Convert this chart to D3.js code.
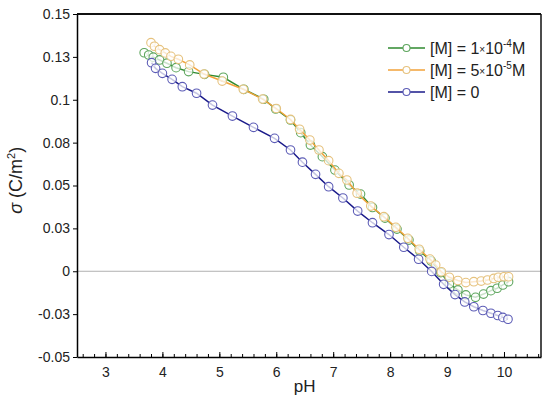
<!DOCTYPE html>
<html>
<head>
<meta charset="utf-8">
<script src="https://cdn.jsdelivr.net/npm/d3@7"></script>
<style>
  body { margin: 0; background: #fff; }
  text { font-family: "Liberation Sans", Arial, sans-serif; }
</style>
</head>
<body>
<div id="chart"></div>
<script>
// [M] = 1x10^-4 M
const phGreen = [3.68, 3.76, 3.84, 3.95, 4.08, 4.24, 4.46, 4.74, 5.07, 5.43, 5.78, 5.99, 6.25, 6.43, 6.60, 6.81, 7.03, 7.28, 7.48, 7.69,
    7.91, 8.12, 8.33, 8.52, 8.72, 8.89, 9.04, 9.19, 9.33, 9.50, 9.64, 9.77, 9.88, 9.98, 10.08];
const sigmaGreen = [0.1274, 0.1261, 0.1248, 0.1232, 0.1213, 0.1187, 0.1164, 0.1148, 0.1131, 0.1061, 0.1003, 0.0946, 0.0882, 0.0808, 0.0736,
    0.0668, 0.0590, 0.0503, 0.0450, 0.0372, 0.0310, 0.0246, 0.0182, 0.0118, 0.0060, -0.0008, -0.0074, -0.0109, -0.0138, -0.0152,
    -0.0133, -0.0113, -0.0099, -0.0080, -0.0061];

// [M] = 5x10^-5 M
const phOrange = [3.80, 3.86, 3.95, 4.05, 4.15, 4.28, 4.48, 4.73, 5.05, 5.42, 5.76, 6.00, 6.25, 6.41, 6.59, 6.75, 6.92, 7.10, 7.24, 7.42,
    7.66, 7.89, 8.10, 8.31, 8.51, 8.70, 8.80, 8.90, 9.04, 9.19, 9.33, 9.47, 9.60, 9.71, 9.82, 9.90, 10.00, 10.08];
const sigmaOrange = [0.1333, 0.1312, 0.1292, 0.1273, 0.1253, 0.1236, 0.1203, 0.1150, 0.1109, 0.1061, 0.1004, 0.0949, 0.0885, 0.0828, 0.0765,
    0.0707, 0.0645, 0.0571, 0.0532, 0.0455, 0.0380, 0.0318, 0.0256, 0.0192, 0.0128, 0.0071, 0.0036, -0.0003, -0.0035, -0.0054,
    -0.0066, -0.0061, -0.0057, -0.0051, -0.0042, -0.0035, -0.0032, -0.0032];

// [M] = 0
const phBlue = [3.81, 3.88, 4.00, 4.17, 4.35, 4.60, 4.88, 5.23, 5.60, 5.97, 6.25, 6.46, 6.69, 6.92, 7.17, 7.43, 7.69, 7.98, 8.24, 8.50,
    8.73, 8.94, 9.14, 9.31, 9.47, 9.63, 9.77, 9.89, 9.98, 10.07];
const sigmaBlue = [0.1216, 0.1183, 0.1154, 0.1119, 0.1076, 0.1038, 0.0969, 0.0905, 0.0839, 0.0775, 0.0707, 0.0636, 0.0565, 0.0493, 0.0427,
    0.0351, 0.0283, 0.0214, 0.0140, 0.0070, -0.0001, -0.0076, -0.0136, -0.0179, -0.0207, -0.0229, -0.0245, -0.0258, -0.0269, -0.0280];

const yTickValues = [-0.05, -0.025, 0, 0.025, 0.05, 0.075, 0.1, 0.125, 0.15];
const yTickLabels = ['-0.05', '-0.03', '0', '0.03', '0.05', '0.08', '0.1', '0.13', '0.15'];
const xTickValues = [3, 4, 5, 6, 7, 8, 9, 10];

const series = [
    { name: 'green', ph: phGreen, sigma: sigmaGreen, line: '#2f8a2f', marker: '#5ea65e', exp: '-4', pre: '1' },
    { name: 'orange', ph: phOrange, sigma: sigmaOrange, line: '#f2a23a', marker: '#e6c27e', exp: '-5', pre: '5' },
    { name: 'blue', ph: phBlue, sigma: sigmaBlue, line: '#1a1a8a', marker: '#5c5cb6', exp: null }
];

const svgWidth = 550;
const svgHeight = 399;
const margin = { top: 14, right: 9, bottom: 42, left: 77 };
const width = svgWidth - margin.left - margin.right;
const height = svgHeight - margin.top - margin.bottom;

const svg = d3.select('#chart')
    .append('svg')
    .attr('width', svgWidth)
    .attr('height', svgHeight)
    .append('g')
    .attr('transform', 'translate(' + margin.left + ',' + margin.top + ')');

const x = d3.scaleLinear().domain([2.5, 10.65]).range([0, width]);
const y = d3.scaleLinear().domain([-0.05, 0.15]).range([height, 0]);

// zero line
svg.append('line')
    .attr('x1', 0).attr('x2', width)
    .attr('y1', y(0)).attr('y2', y(0))
    .attr('stroke', '#b0b0b0')
    .attr('stroke-width', 1);

// frame top / right
svg.append('line')
    .attr('x1', 0).attr('x2', width).attr('y1', 0).attr('y2', 0)
    .attr('stroke', '#111').attr('stroke-width', 2);
svg.append('line')
    .attr('x1', width).attr('x2', width).attr('y1', 0).attr('y2', height)
    .attr('stroke', '#111').attr('stroke-width', 1.5);

// minor x ticks
const xMinor = svg.append('g')
    .attr('transform', 'translate(0,' + height + ')')
    .call(d3.axisBottom(x).tickValues(d3.range(2.6, 10.65, 0.2)).tickSize(-3).tickFormat(''));
xMinor.select('.domain').remove();

const xAxis = svg.append('g')
    .attr('transform', 'translate(0,' + height + ')')
    .call(d3.axisBottom(x).tickValues(xTickValues).tickSizeInner(-5).tickSizeOuter(0).tickPadding(10));
xAxis.selectAll('text').style('font-size', '14px').attr('fill', '#222');
xAxis.select('.domain').attr('stroke-width', 1.5);

const yAxis = svg.append('g')
    .call(d3.axisLeft(y).tickValues(yTickValues).tickSizeInner(4).tickSizeOuter(0).tickPadding(3)
        .tickFormat((d, i) => yTickLabels[i]));
yAxis.selectAll('text').style('font-size', '14px').attr('fill', '#222');
yAxis.select('.domain').attr('stroke-width', 1.5);

// series
const line = d3.line()
    .x(d => x(d[0]))
    .y(d => y(d[1]));

series.forEach(s => {
    const pts = s.ph.map((p, i) => [p, s.sigma[i]]);
    svg.append('path')
        .datum(pts)
        .attr('fill', 'none')
        .attr('stroke', s.line)
        .attr('stroke-width', 1.5)
        .attr('d', line);
    svg.selectAll('.pt-' + s.name)
        .data(pts)
        .enter().append('circle')
        .attr('class', 'pt-' + s.name)
        .attr('cx', d => x(d[0]))
        .attr('cy', d => y(d[1]))
        .attr('r', 4.3)
        .attr('fill', '#fff')
        .attr('fill-opacity', 0.75)
        .attr('stroke', s.marker)
        .attr('stroke-width', 1.1);
});

// legend
const legend = svg.append('g')
    .attr('transform', 'translate(' + (388 - margin.left) + ',' + (48 - margin.top) + ')');

series.forEach((s, i) => {
    const g = legend.append('g').attr('transform', 'translate(0,' + (i * 22) + ')');
    g.append('line')
        .attr('x1', 0).attr('x2', 37).attr('y1', 0).attr('y2', 0)
        .attr('stroke', s.line).attr('stroke-width', 1.5);
    g.append('circle')
        .attr('cx', 18.5).attr('cy', 0).attr('r', 3.5)
        .attr('fill', '#fff').attr('stroke', s.marker).attr('stroke-width', 1.1);
    const t = g.append('text')
        .attr('x', 42).attr('y', 5.5)
        .style('font-size', '16px')
        .attr('fill', '#222');
    if (s.exp) {
        t.append('tspan').text('[M] = ' + s.pre);
        t.append('tspan').style('font-size', '10px').attr('dy', -1).text('\u00d7');
        t.append('tspan').attr('dy', 1).text('10');
        t.append('tspan').style('font-size', '10px').attr('dy', -7).text(s.exp);
        t.append('tspan').attr('dy', 7).text('M');
    } else {
        t.text('[M] = 0');
    }
});

// axis labels
svg.append('text')
    .attr('x', x(6.5))
    .attr('y', height + 35)
    .style('text-anchor', 'middle')
    .style('font-size', '17px')
    .attr('fill', '#222')
    .text('pH');

const yLabel = svg.append('text')
    .attr('transform', 'rotate(-90)')
    .attr('x', -(y(0.053)))
    .attr('y', -margin.left + 22)
    .style('text-anchor', 'middle')
    .style('font-size', '18px')
    .attr('fill', '#222');
yLabel.append('tspan').style('font-style', 'italic').text('\u03c3');
yLabel.append('tspan').text(' (C/m');
yLabel.append('tspan').style('font-size', '11px').attr('dy', -7).text('2');
yLabel.append('tspan').attr('dy', 7).text(')');
</script>
</body>
</html>
